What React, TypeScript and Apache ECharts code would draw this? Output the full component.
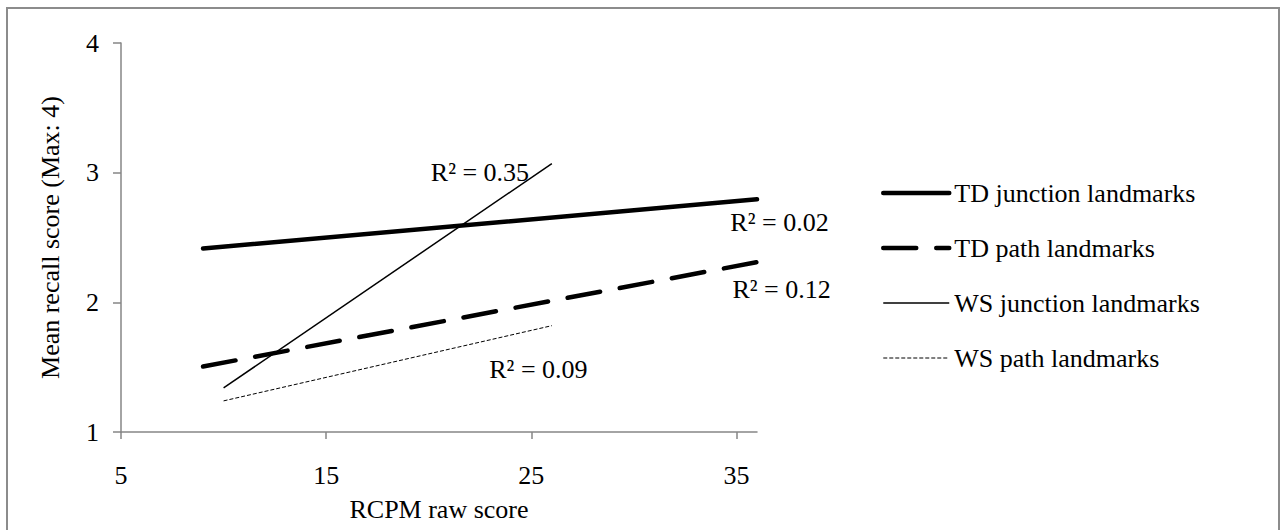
import React, { useEffect, useRef } from "react";
import * as echarts from "echarts";

const seriesNames = [
  "TD junction landmarks",
  "TD path landmarks",
  "WS junction landmarks",
  "WS path landmarks",
];
// trend line end points [x, y]
const tdJunction = [
  [9, 2.415],
  [36, 2.795],
];
const tdPath = [
  [9, 1.505],
  [36, 2.31],
];
const wsJunction = [
  [10, 1.34],
  [26, 3.07],
];
const wsPath = [
  [10, 1.24],
  [26, 1.82],
];
const r2Labels = ["R² = 0.35", "R² = 0.02", "R² = 0.12", "R² = 0.09"];
const r2Anchors = [
  [20.1, 3.0],
  [34.7, 2.615],
  [34.8, 2.1],
  [22.95, 1.48],
];
const xTicks = [5, 15, 25, 35];
const yTicks = [1, 2, 3, 4];

const FONT = "Liberation Serif";
const AXIS_GRAY = "#868686";

export default function App() {
  const ref = useRef<HTMLDivElement>(null);
  useEffect(() => {
    if (!ref.current) return;
    const chart = echarts.init(ref.current, undefined, { renderer: "svg" });
    const styles = [
      { color: "#000", width: 4.5, cap: "round" },
      { color: "#000", width: 4.5, type: [33, 20], cap: "round" },
      { color: "#000", width: 1.5 },
      { color: "#000", width: 1, type: [4, 2] },
    ];
    const datasets = [tdJunction, tdPath, wsJunction, wsPath];
    chart.setOption({
      animation: false,
      textStyle: { fontFamily: FONT, color: "#000" },
      grid: { left: 121, right: 529, top: 43, bottom: 98, containLabel: false },
      xAxis: {
        type: "value",
        min: 5,
        max: 36,
        splitLine: { show: false },
        axisLine: { lineStyle: { color: AXIS_GRAY, width: 1.5 } },
        axisTick: { show: true, length: 7, lineStyle: { color: AXIS_GRAY, width: 1.5 }, customValues: xTicks },
        axisLabel: { color: "#000", fontSize: 26, fontFamily: FONT, margin: 30, customValues: xTicks },
        name: "RCPM raw score",
        nameLocation: "middle",
        nameGap: 64,
        nameTextStyle: { color: "#000", fontSize: 26, fontFamily: FONT },
      },
      yAxis: {
        type: "value",
        min: 1,
        max: 4,
        interval: 1,
        splitLine: { show: false },
        axisLine: { show: true, lineStyle: { color: AXIS_GRAY, width: 1.5 } },
        axisTick: { show: true, length: 8, lineStyle: { color: AXIS_GRAY, width: 1.5 }, customValues: yTicks },
        axisLabel: { color: "#000", fontSize: 26, fontFamily: FONT, margin: 22, customValues: yTicks },
        name: "Mean recall score (Max: 4)",
        nameLocation: "middle",
        nameGap: 58,
        nameTextStyle: { color: "#000", fontSize: 26, fontFamily: FONT },
      },
      legend: {
        orient: "vertical",
        left: 876,
        top: 173,
        itemWidth: 66,
        itemHeight: 12,
        itemGap: 25,
        data: seriesNames.map((n, i) => ({ name: n, lineStyle: styles[i] })),
        itemStyle: { color: "rgba(0,0,0,0)", borderWidth: 0 },
        textStyle: { fontSize: 26, fontFamily: FONT, color: "#000", lineHeight: 30 },
        selectedMode: false,
      },
      series: seriesNames.map((n, i) => ({
        type: "line",
        name: n,
        symbol: "none",
        showSymbol: false,
        silent: true,
        data: datasets[i],
        lineStyle: styles[i],
        itemStyle: { color: "#000" },
        z: i < 2 ? 4 : 3,
      })),
    });
    const texts = r2Anchors.map((p, i) => {
      const px = chart.convertToPixel({ gridIndex: 0 }, p) as number[];
      return {
        type: "text",
        x: px[0],
        y: px[1],
        silent: true,
        style: {
          text: r2Labels[i],
          font: `26px ${FONT}`,
          fill: "#000",
          textAlign: "left",
          textVerticalAlign: "middle",
        },
        z: 10,
      };
    });
    chart.setOption({
      graphic: [
        {
          type: "rect",
          shape: { x: 7, y: 8, width: 1272, height: 560 },
          style: { fill: "none", stroke: "#8c8c8c", lineWidth: 2 },
          silent: true,
          z: -1,
        },
        ...texts,
      ],
    });
    return () => chart.dispose();
  }, []);
  return (
    <div
      ref={ref}
      style={{ position: "fixed", left: 0, top: 0, width: 1286, height: 530, background: "#fff" }}
    />
  );
}
